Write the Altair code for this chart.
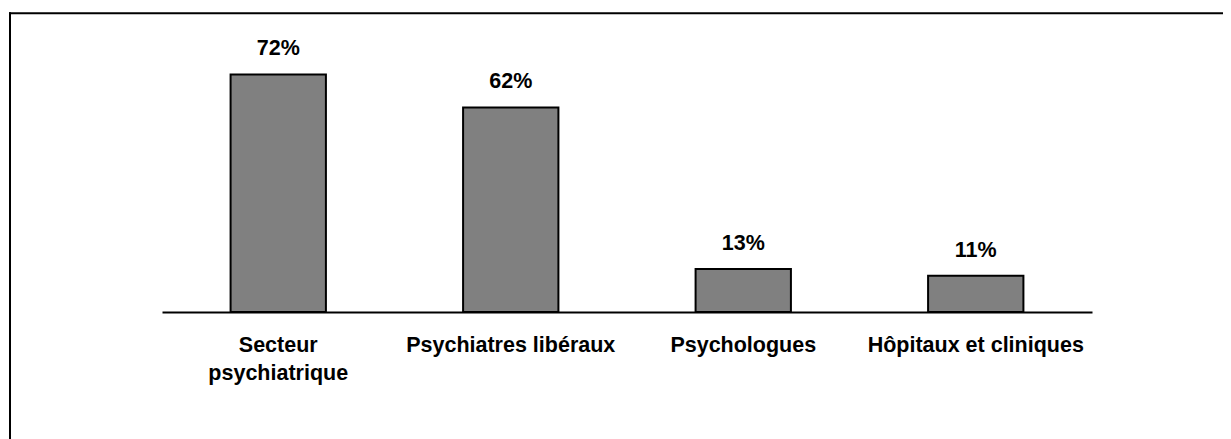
import altair as alt
import pandas as pd

categories = ["Secteur psychiatrique", "Psychiatres libéraux", "Psychologues", "Hôpitaux et cliniques"]
values = [72, 62, 13, 11]

df = pd.DataFrame({"cat": categories, "val": values})
df["lbl"] = [f"{v}%" for v in values]

FONT = "Liberation Sans"

x_enc = alt.X(
    "cat:N",
    sort=categories,
    title=None,
    scale=alt.Scale(paddingInner=0.59, paddingOuter=0.295),
    axis=alt.Axis(
        labelAngle=0,
        ticks=False,
        domainColor="black",
        domainWidth=2,
        labelFont=FONT,
        labelFontSize=21.5,
        labelFontWeight="bold",
        labelColor="black",
        labelPadding=22,
        labelLineHeight=28,
        labelLimit=400,
        labelExpr="datum.label == 'Secteur psychiatrique' ? ['Secteur', 'psychiatrique'] : datum.label",
    ),
)
y_enc = alt.Y("val:Q", axis=None, scale=alt.Scale(domain=[0, 80], nice=False))

bars = alt.Chart(df).mark_bar(color="#808080", stroke="black", strokeWidth=2).encode(x=x_enc, y=y_enc)

labels = alt.Chart(df).mark_text(
    font=FONT, fontSize=21.5, fontWeight="bold", color="black", dy=-19, baseline="alphabetic"
).encode(x=alt.X("cat:N", sort=categories), y="val:Q", text="lbl:N")

dummy = pd.DataFrame({"a": [0]})
frame_top = alt.Chart(dummy).mark_rule(color="black", strokeWidth=2).encode(
    x=alt.value(-153), x2=alt.value(1200), y=alt.value(-34.7)
)
frame_left = alt.Chart(dummy).mark_rule(color="black", strokeWidth=2).encode(
    x=alt.value(-152), y=alt.value(-35.7), y2=alt.value(500)
)

chart = alt.layer(frame_top, frame_left, bars, labels).properties(
    width=930,
    height=264,
    autosize=alt.AutoSizeParams(type="none"),
    padding={"left": 154, "top": 40, "right": 131, "bottom": 127},
).configure_view(stroke=None)

chart.save("out.html", embed_options={"renderer": "svg", "actions": False})
